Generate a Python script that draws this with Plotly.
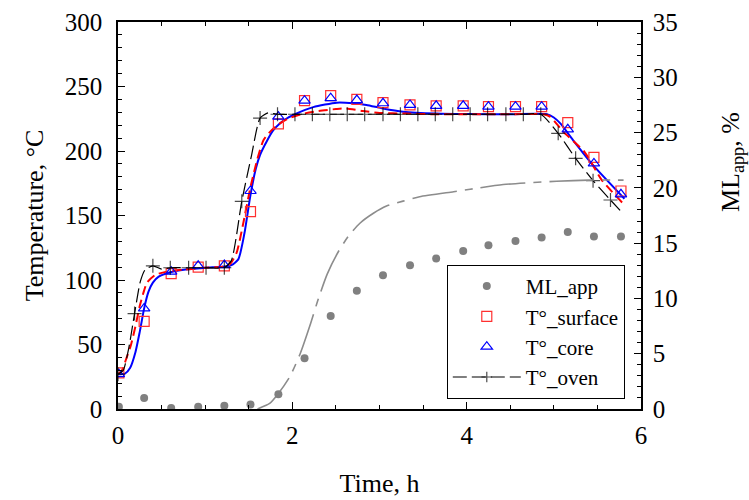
import plotly.graph_objects as go

# ---------------- data ----------------
# measurement times (h)
t_meas = [0.01, 0.30, 0.61, 0.92, 1.22, 1.52, 1.84, 2.14, 2.44, 2.74,
          3.04, 3.35, 3.65, 3.96, 4.25, 4.56, 4.86, 5.16, 5.46, 5.77]
ml_app = [0.2, 1.0, 0.1, 0.2, 0.3, 0.4, 1.33, 4.6, 8.4, 10.7,
          12.1, 13.0, 13.6, 14.3, 14.8, 15.2, 15.5, 16.0, 15.6, 15.6]
t_surface = [28, 68, 105, 110, 111, 153, 221, 239, 243, 240,
             237.5, 235.7, 235, 235, 234.4, 234.4, 234.4, 222, 195, 169]
t_core = [27, 78, 106.5, 111, 111.6, 169, 226.6, 239, 241, 239.5,
          237, 235.7, 235, 235, 234.4, 234.4, 234.4, 216.8, 190.4, 166.4]

# oven temperature readings (+ markers)
oven_t = [0.0, 0.19, 0.40, 0.60, 0.81, 1.01, 1.22, 1.42, 1.63, 1.83,
          2.03, 2.23, 2.43, 2.63, 2.83, 3.04, 3.24, 3.44, 3.64, 3.84,
          4.04, 4.24, 4.45, 4.65, 4.85, 5.05, 5.25, 5.45, 5.65]
oven_T = [27, 74, 111, 109.5, 109.5, 109.5, 109.5, 161, 225.5, 228.5,
          228.5, 228.5, 228.5, 228.5, 228.5, 228.5, 228.5, 228.5, 228.5, 228.5,
          228.5, 228.5, 228.5, 228.5, 228.5, 213.7, 194.3, 177, 162]
# additional points read along the oven curve between readings
oven_curve_t = [0.06, 0.123, 0.256, 0.31, 0.50, 1.30, 1.53, 1.72, 5.76]
oven_curve_T = [30, 47, 98.7, 107.8, 108.5, 115, 196, 229.5, 154]

# simulated core temperature curve
core_model_t = [0.0, 0.08, 0.14, 0.2, 0.25, 0.30, 0.35, 0.4, 0.467, 0.6,
                0.734, 1.0, 1.2, 1.3, 1.38, 1.45, 1.52, 1.58, 1.63, 1.71,
                1.78, 1.85, 1.93, 2.03, 2.24, 2.51, 2.7, 2.85, 3.04, 3.27,
                3.65, 4.0, 4.5, 4.92, 5.0, 5.08, 5.22, 5.45, 5.81]
core_model_T = [27, 27.5, 32, 44, 60, 78, 91, 98, 102.6, 106,
                107.8, 109.5, 110.3, 111.5, 116, 136, 166, 186, 197, 208,
                216, 221, 225, 228.5, 234, 237.5, 237, 235.7, 233, 230.5,
                229, 228.6, 228.5, 228.5, 226, 221, 208.5, 189, 163]

# simulated surface temperature curve
surf_model_t = [0.0, 0.046, 0.1, 0.15, 0.2, 0.25, 0.30, 0.333, 0.43, 0.56,
                0.75, 1.0, 1.2, 1.28, 1.36, 1.44, 1.52, 1.6, 1.67, 1.76,
                1.85, 1.95, 2.1, 2.3, 2.5, 2.62, 2.81, 3.0, 3.3, 3.6,
                4.0, 4.5, 4.88, 4.96, 5.02, 5.107, 5.355, 5.55, 5.79]
surf_model_T = [27, 30, 40, 50, 64, 80, 92, 98, 104, 106.5,
                108, 109.5, 110.3, 112, 121, 145, 172, 194, 208.5, 216,
                221, 225, 228.5, 231, 232.5, 233, 231, 229.5, 229, 228.5,
                228.5, 228.5, 228.5, 226.5, 222, 215, 199, 177.5, 159.6]

# simulated apparent mass loss curve (right axis)
ml_model_t = [1.6, 1.74, 1.84, 1.97, 2.09, 2.2, 2.3, 2.4, 2.526, 2.64,
              2.775, 2.93, 3.08, 3.27, 3.46, 3.85, 4.04, 4.42, 5.03, 5.4, 5.8]
ml_model_v = [0.0, 0.5, 1.4, 2.9, 5.0, 7.5, 10.0, 12.2, 14.2, 15.6,
              16.8, 17.7, 18.35, 18.8, 19.2, 19.65, 19.87, 20.3, 20.6, 20.7, 20.7]

# ---------------- figure ----------------
FONT = "Liberation Serif"
fig = go.Figure()

# model curves
fig.add_trace(go.Scatter(x=ml_model_t, y=ml_model_v, yaxis="y2", mode="lines",
                         line=dict(color="#8c8c8c", width=1.6, dash="45px,8px,8px,8px",
                                   shape="spline", smoothing=0.6),
                         showlegend=False, hoverinfo="skip"))
fig.add_trace(go.Scatter(x=core_model_t, y=core_model_T, mode="lines",
                         line=dict(color="#0000ff", width=2, shape="spline", smoothing=0.6),
                         showlegend=False, hoverinfo="skip"))
fig.add_trace(go.Scatter(x=surf_model_t, y=surf_model_T, mode="lines",
                         line=dict(color="#ff0000", width=2, dash="9px,5px",
                                   shape="spline", smoothing=0.6),
                         showlegend=False, hoverinfo="skip"))

# measured points
fig.add_trace(go.Scatter(x=t_meas, y=ml_app, yaxis="y2", mode="markers", name="ML_app",
                         marker=dict(symbol="circle", size=8, color="#808080")))
fig.add_trace(go.Scatter(x=t_meas, y=t_surface, mode="markers", name="T°_surface",
                         marker=dict(symbol="square-open", size=10, color="#ff3030",
                                     line=dict(width=1.2))))
fig.add_trace(go.Scatter(x=t_meas, y=t_core, mode="markers", name="T°_core",
                         marker=dict(symbol="triangle-up-open", size=10, color="#0000ff",
                                     line=dict(width=1.2))))

# oven: merge readings and curve points, markers only at readings
pts = sorted([(a, b, True) for a, b in zip(oven_t, oven_T)] +
             [(a, b, False) for a, b in zip(oven_curve_t, oven_curve_T)])
fig.add_trace(go.Scatter(x=[p[0] for p in pts], y=[p[1] for p in pts],
                         mode="lines+markers", name="T°_oven",
                         line=dict(color="black", width=1.2, dash="14px,5px",
                                   shape="spline", smoothing=0.6),
                         marker=dict(symbol="cross-thin", color="black",
                                     size=[10 if p[2] else 0 for p in pts],
                                     line=dict(width=1.2, color="black"))))

axis_common = dict(showline=True, linecolor="black", linewidth=1.5,
                   ticks="inside", ticklen=7, tickwidth=1, tickcolor="black",
                   showgrid=False, zeroline=False, automargin=False,
                   tickfont=dict(family=FONT, size=25, color="black"))

fig.update_layout(
    width=749, height=500,
    margin=dict(l=118, r=108, t=22, b=91),
    plot_bgcolor="white", paper_bgcolor="white",
    font=dict(family=FONT, size=25, color="black"),
    xaxis=dict(range=[0, 6], tick0=0, dtick=2, mirror="ticks", ticklabelstandoff=3,
               minor=dict(dtick=0.5, ticks="inside", ticklen=4, tickcolor="black"),
               title=dict(text="Time, h", font=dict(family=FONT, size=26), standoff=26),
               **axis_common),
    yaxis=dict(range=[0, 300], tick0=0, dtick=50, ticklabelstandoff=9,
               minor=dict(dtick=10, ticks="inside", ticklen=4, tickcolor="black"),
               title=dict(text="Temperature, °C", font=dict(family=FONT, size=26), standoff=14),
               **axis_common),
    yaxis2=dict(range=[0, 35], tick0=0, dtick=5, overlaying="y", side="right", anchor="x",
                ticklabelstandoff=5,
                minor=dict(dtick=1, ticks="inside", ticklen=4, tickcolor="black"),
                **axis_common),
    legend=dict(x=0.969, y=0.026, xanchor="right", yanchor="bottom",
                bgcolor="white", bordercolor="black", borderwidth=1,
                font=dict(family=FONT, size=21, color="black"),
                itemwidth=68, tracegroupgap=0),
    annotations=[dict(text="ML<sub>app</sub>, %", textangle=-90, showarrow=False,
                      xref="paper", yref="paper", x=1.174, y=0.638,
                      xanchor="center", yanchor="middle",
                      font=dict(family=FONT, size=26, color="black"))],
)

fig.write_html("out.html")
